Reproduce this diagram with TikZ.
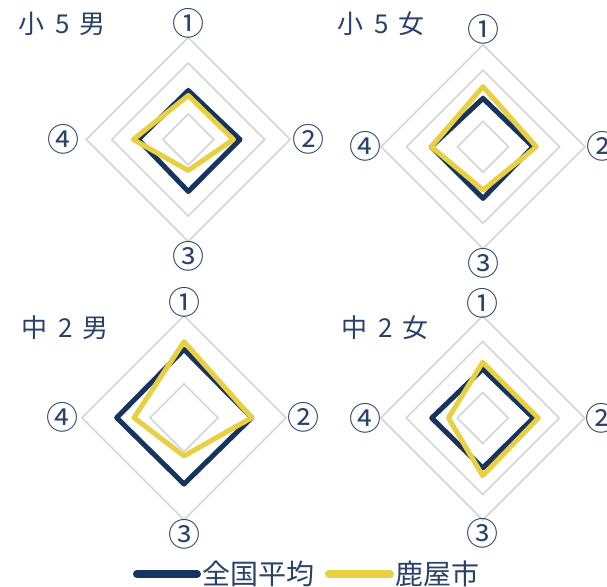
\documentclass[tikz,border=0pt]{standalone}
\usepackage{fontspec}
\setmainfont{Noto Sans CJK JP}
\definecolor{navyline}{RGB}{22,52,94}
\definecolor{goldline}{RGB}{232,208,66}
\definecolor{gridgray}{RGB}{212,212,212}
\definecolor{labeltext}{RGB}{42,66,106}

\begin{document}
\begin{tikzpicture}[x=1pt,y=-1pt,
    grid/.style={draw=gridgray,line width=1.6pt},
    avg/.style={draw=navyline,line width=5pt,line join=round},
    city/.style={draw=goldline,line width=5pt,line join=round},
    axislabel/.style={text=labeltext,font=\fontsize{32}{34}\selectfont,inner sep=0pt},
    charttitle/.style={text=labeltext,font=\fontsize{26}{28}\selectfont,inner sep=0pt,anchor=west},
    keytext/.style={text=labeltext,font=\fontsize{28}{30}\selectfont,inner sep=0pt,anchor=west}]
        \useasboundingbox (0,0) rectangle (607,586);
        % 小5男
        \begin{scope}[shift={(188.3,139.5)}]
            \foreach \r in {25.5,51,76.5,102} \draw[grid] (0,-\r) -- (\r,0) -- (0,\r) -- (-\r,0) -- cycle;
            \draw[avg] (0,-49) -- (51.7,0) -- (0,52) -- (-50,0) -- cycle;
            \draw[city] (0,-44) -- (45,0) -- (0,31) -- (-55,0) -- cycle;
            \node[axislabel] (bA) at (0,-116) {①};
            \node[axislabel] (bB) at (120,0) {②};
            \node[axislabel] (bC) at (0,117) {③};
            \node[axislabel] (bD) at (-125,0) {④};
        \end{scope}
        \node[charttitle] (tBoy5) at (18,24) {小\hspace{0.45em}5\hspace{0.35em}男};
        % 小5女
        \begin{scope}[shift={(483,146.7)}]
            \foreach \r in {25.5,51,76.5,102} \draw[grid] (0,-\r) -- (\r,0) -- (0,\r) -- (-\r,0) -- cycle;
            \draw[avg] (0,-48.3) -- (50,0) -- (0,51.7) -- (-51.7,0) -- cycle;
            \draw[city] (0,-60) -- (53.3,0) -- (0,43.3) -- (-51.7,0) -- cycle;
            \node[axislabel] (gA) at (0,-117) {①};
            \node[axislabel] (gB) at (119,0) {②};
            \node[axislabel] (gC) at (0,117) {③};
            \node[axislabel] (gD) at (-118,0) {④};
        \end{scope}
        \node[charttitle] (tGirl5) at (337,24) {小\hspace{0.45em}5\hspace{0.35em}女};
        % 中2男
        \begin{scope}[shift={(184,417.7)}]
            \foreach \r in {34,68,102} \draw[grid] (0,-\r) -- (\r,0) -- (0,\r) -- (-\r,0) -- cycle;
            \draw[avg] (0,-68.3) -- (67.7,0) -- (0,66.3) -- (-67.3,0) -- cycle;
            \draw[city] (0,-76) -- (67.7,0) -- (0,38.3) -- (-50,0) -- cycle;
            \node[axislabel] (cA) at (0,-115) {①};
            \node[axislabel] (cB) at (119,0) {②};
            \node[axislabel] (cC) at (0,117) {③};
            \node[axislabel] (cD) at (-122,0) {④};
        \end{scope}
        \node[charttitle] (tBoy2) at (21,328) {中\hspace{0.45em}2\hspace{0.35em}男};
        % 中2女
        \begin{scope}[shift={(482.7,418)}]
            \foreach \r in {25.5,51,76.5,102} \draw[grid] (0,-\r) -- (\r,0) -- (0,\r) -- (-\r,0) -- cycle;
            \draw[avg] (0,-49) -- (50.7,0) -- (0,50) -- (-51,0) -- cycle;
            \draw[city] (0,-55.7) -- (55.7,0) -- (0,57.7) -- (-34.3,0) -- cycle;
            \node[axislabel] (hA) at (0,-115) {①};
            \node[axislabel] (hB) at (119,0) {②};
            \node[axislabel] (hC) at (0,115) {③};
            \node[axislabel] (hD) at (-117,0) {④};
        \end{scope}
        \node[charttitle] (tGirl2) at (341,328) {中\hspace{0.45em}2\hspace{0.35em}女};
        % legend
        \coordinate (kAvgA) at (137,574);
        \coordinate (kAvgB) at (197,574);
        \coordinate (kCityA) at (329,574);
        \coordinate (kCityB) at (390,574);
        \draw[avg,line width=8pt,line cap=round] (kAvgA) -- (kAvgB);
        \node[keytext] (kAvg) at (202,574) {全国平均};
        \draw[city,line width=8pt,line cap=round] (kCityA) -- (kCityB);
        \node[keytext] (kCity) at (395,574) {鹿屋市};
\end{tikzpicture}
\end{document}
